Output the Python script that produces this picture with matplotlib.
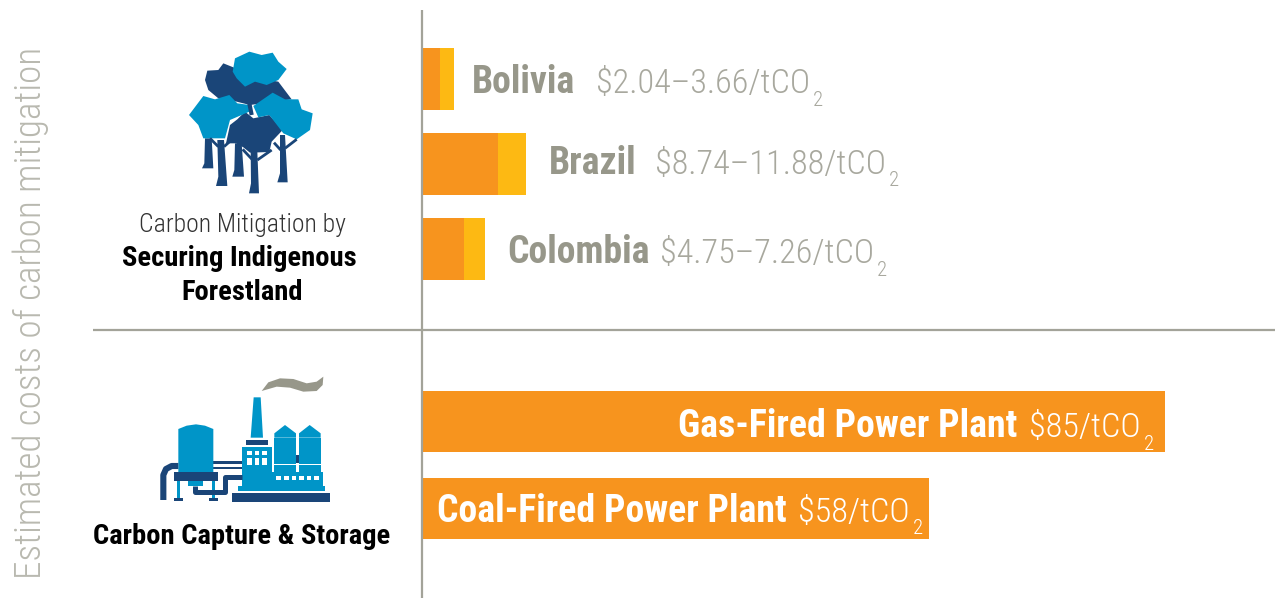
import matplotlib
matplotlib.use('Agg')
import matplotlib.pyplot as plt
from matplotlib.patches import Polygon, Rectangle

plt.rcParams['font.family'] = ['Roboto Condensed', 'Liberation Sans', 'DejaVu Sans']

# Daten
forest_countries = ['Bolivia', 'Brazil', 'Colombia']
forest_low = [2.04, 8.74, 4.75]
forest_high = [3.66, 11.88, 7.26]
forest_labels = ['$2.04–3.66/tCO', '$8.74–11.88/tCO', '$4.75–7.26/tCO']
ccs_plants = ['Gas-Fired Power Plant', 'Coal-Fired Power Plant']
ccs_cost = [85, 58]
ccs_labels = ['$85/tCO', '$58/tCO']

ORANGE = '#F7941E'
YELLOW = '#FDB913'
GREY = '#97978A'
GREY_LIGHT = '#A8A89E'
LINE = '#A3A399'
DARK = '#1A4578'
BLUE = '#0095C8'

W, H = 1275, 598
fig = plt.figure(figsize=(W / 100, H / 100), dpi=100)

# Balken-Achse: x in $/tCO2, y in Pixeln
x0 = 422
ax = fig.add_axes([x0 / W, 0, (W - x0) / W, 1])
ax.set_xlim(0, (W - x0) / 8.74)
ax.set_ylim(H, 0)
ax.axis('off')

forest_y = [79, 164, 249]
ccs_y = [421.5, 508.5]
ax.barh(forest_y, forest_high, height=62, color=YELLOW)
ax.barh(forest_y, forest_low, height=62, color=ORANGE)
ax.barh(ccs_y, ccs_cost, height=61, color=ORANGE)

# Overlay in Pixelkoordinaten fuer Linien, Texte, Icons
ov = fig.add_axes([0, 0, 1, 1])
ov.set_xlim(0, W)
ov.set_ylim(H, 0)
ov.axis('off')
ov.patch.set_alpha(0)

ov.plot([x0, x0], [10, H], color=LINE, lw=1.6, solid_capstyle='butt')
ov.plot([93, W], [330, 330], color=LINE, lw=1.6, solid_capstyle='butt')

ov.text(31, 313, 'Estimated costs of carbon mitigation', rotation=90, ha='center',
        va='center', fontsize=26.7, fontweight='light', color='#B9B9B0')

ov.text(242, 225, 'Carbon Mitigation by', ha='center', va='center', fontsize=18.5,
        fontweight='light', color='#333333')
ov.text(239, 258, 'Securing Indigenous', ha='center', va='center', fontsize=20.5,
        fontweight='bold', color='black')
ov.text(242, 292, 'Forestland', ha='center', va='center', fontsize=20.5,
        fontweight='bold', color='black')
ov.text(241.5, 537, 'Carbon Capture & Storage', ha='center', va='center', fontsize=20.5,
        fontweight='bold', color='black')

renderer = fig.canvas.get_renderer()


def cost_label(x_name, x_val, y, name, val, c_name, c_val):
    ov.text(x_name, y, name, fontsize=27.2, fontweight='bold', color=c_name, va='baseline')
    t = ov.text(x_val, y, val, fontsize=24.7, fontweight='light', color=c_val, va='baseline')
    x_end = t.get_window_extent(renderer).x1
    ov.text(x_end + 3, y + 12.5, '2', fontsize=15, fontweight='light', color=c_val, va='baseline')


name_x = [472, 549, 507]
val_x = [596, 655, 660]
base_y = [93, 174, 263]
for i in range(3):
    cost_label(name_x[i], val_x[i], base_y[i], forest_countries[i], forest_labels[i],
               GREY, GREY_LIGHT)
cost_label(678, 1029, 437, ccs_plants[0], ccs_labels[0], 'white', 'white')
cost_label(437, 798, 522, ccs_plants[1], ccs_labels[1], 'white', 'white')


# Icons: Koordinaten aus 3x-Ausschnitten
def poly(pts, color, ox, oy):
    ov.add_patch(Polygon([(ox + a / 3, oy + b / 3) for a, b in pts], closed=True,
                         fc=color, ec='none'))


def rect(x1, y1, x2, y2, color, ox, oy):
    ov.add_patch(Rectangle((ox + x1 / 3, oy + y1 / 3), (x2 - x1) / 3, (y2 - y1) / 3,
                           fc=color, ec='none'))


def pipe(pts, color, lw, ox, oy):
    ov.plot([ox + a / 3 for a, b in pts], [oy + b / 3 for a, b in pts], color=color, lw=lw,
            solid_joinstyle='round', solid_capstyle='butt')


# Baeume
tx, ty = 150, 30
for t in [[(165, 325), (185, 325), (190, 415), (156, 415), (163, 400)],
          [(202, 330), (222, 330), (232, 468), (198, 468), (205, 440)],
          [(255, 340), (275, 340), (282, 440), (247, 440), (253, 420)],
          [(302, 365), (322, 365), (327, 490), (297, 490), (303, 460)],
          [(390, 315), (405, 315), (413, 457), (382, 457), (390, 430)]]:
    poly(t, DARK, tx, ty)
for b in [[(180, 325), (205, 350)], [(222, 350), (250, 325)], [(278, 358), (308, 390)],
          [(322, 390), (365, 360)], [(372, 338), (392, 360)], [(405, 355), (440, 328)]]:
    pipe(b, DARK, 2.0, tx, ty)
poly([(172, 122), (205, 120), (220, 100), (250, 112), (300, 140), (385, 155), (425, 208),
      (300, 225), (260, 215), (205, 205), (175, 180), (165, 150)], DARK, tx, ty)
pipe([(298, 220), (305, 255)], DARK, 3, tx, ty)
poly([(240, 285), (262, 268), (285, 245), (310, 265), (358, 255), (398, 300), (365, 335),
      (358, 366), (300, 368), (280, 352), (258, 340), (228, 340)], DARK, tx, ty)
poly([(255, 85), (298, 65), (335, 75), (368, 68), (385, 95), (410, 117), (385, 150),
      (350, 165), (315, 155), (285, 170), (260, 145), (248, 125)], BLUE, tx, ty)
poly([(160, 198), (195, 208), (238, 195), (262, 220), (298, 225), (298, 245), (240, 270),
      (225, 325), (160, 325), (145, 285), (117, 255)], BLUE, tx, ty)
poly([(310, 228), (368, 188), (405, 208), (445, 208), (455, 238), (488, 250), (480, 300),
      (440, 328), (400, 310), (358, 255), (325, 262)], BLUE, tx, ty)

# Fabrik
fx, fy = 140, 365
poly([(365, 78), (385, 52), (420, 40), (460, 42), (500, 55), (530, 50), (550, 35), (548, 60),
      (530, 78), (490, 80), (450, 68), (410, 65)], GREY, fx, fy)
pipe([(70, 405), (70, 330), (78, 312), (95, 303), (115, 303)], DARK, 4.4, fx, fy)
pipe([(165, 362), (165, 382), (255, 382), (255, 335), (305, 335)], DARK, 3.6, fx, fy)
rect(220, 288, 305, 298, DARK, fx, fy)
rect(220, 305, 305, 313, DARK, fx, fy)
rect(468, 270, 477, 295, DARK, fx, fy)
poly([(115, 192), (140, 182), (168, 178), (195, 182), (220, 192), (220, 322), (115, 322)],
     BLUE, fx, fy)
rect(102, 322, 234, 348, DARK, fx, fy)
rect(144, 348, 190, 362, BLUE, fx, fy)
rect(110, 348, 120, 400, BLUE, fx, fy)
rect(216, 348, 226, 400, BLUE, fx, fy)
rect(102, 400, 130, 408, DARK, fx, fy)
rect(207, 400, 234, 408, DARK, fx, fy)
poly([(341, 97), (362, 97), (369, 218), (332, 218)], BLUE, fx, fy)
rect(318, 225, 384, 240, DARK, fx, fy)
rect(306, 245, 396, 365, BLUE, fx, fy)
for wx in [(320, 336), (344, 358), (366, 380)]:
    rect(wx[0], 258, wx[1], 270, 'white', fx, fy)
    rect(wx[0], 278, wx[1], 300, 'white', fx, fy)
for sx in [403, 477]:
    poly([(sx, 205), (sx + 32, 180), (sx + 65, 205), (sx + 65, 218), (sx, 218)], BLUE, fx, fy)
    rect(sx, 220, sx + 65, 296, BLUE, fx, fy)
    rect(sx, 300, sx + 65, 322, BLUE, fx, fy)
rect(396, 322, 550, 365, BLUE, fx, fy)
for wx in [408, 432, 455, 478, 500, 522]:
    rect(wx, 333, wx + 14, 344, 'white', fx, fy)
rect(294, 363, 555, 378, BLUE, fx, fy)
rect(276, 384, 570, 410, DARK, fx, fy)

fig.savefig('out.png', dpi=100)
